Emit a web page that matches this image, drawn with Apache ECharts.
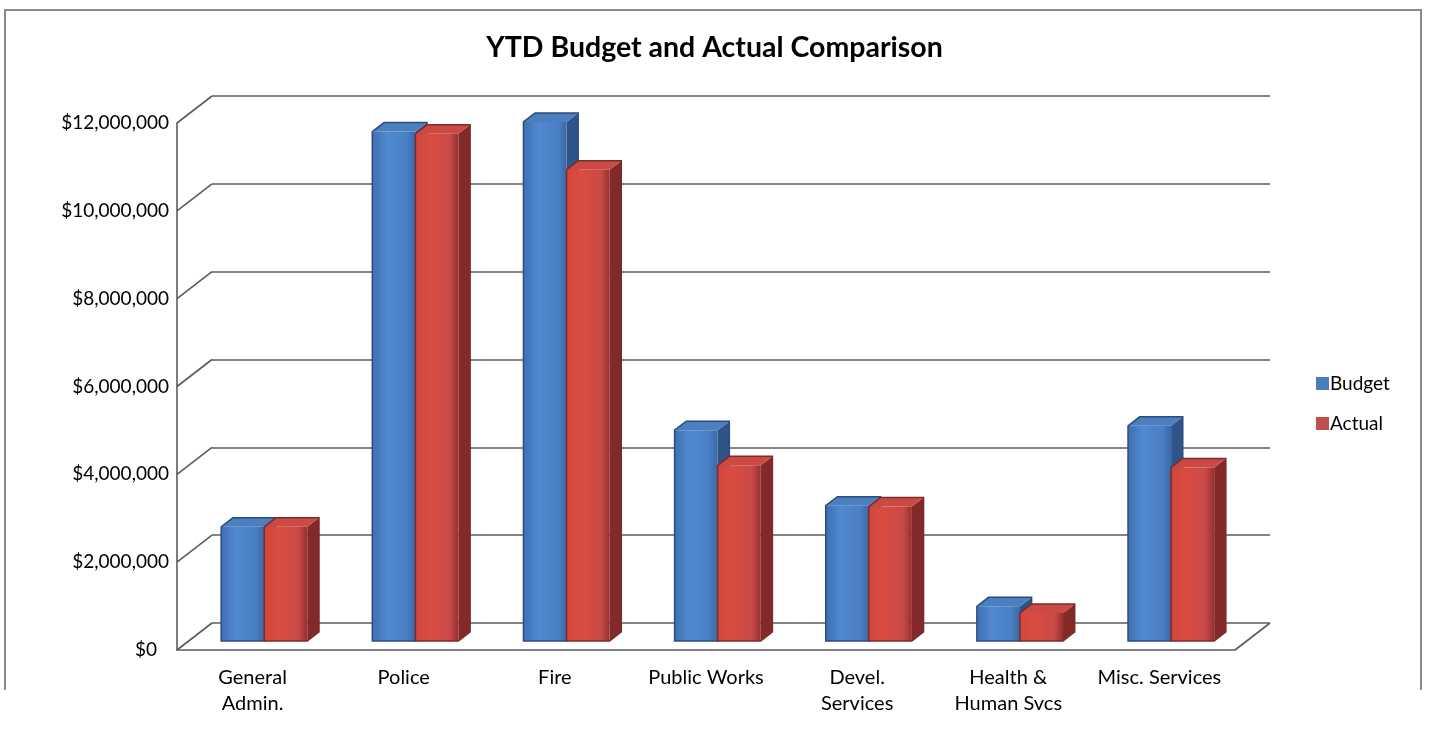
<!DOCTYPE html>
<html>
<head>
<meta charset="utf-8">
<script src="https://cdn.jsdelivr.net/npm/echarts@6/dist/echarts.min.js"></script>
<style>
  html, body { margin: 0; padding: 0; background: #ffffff; }
  #chart { width: 1429px; height: 729px; }
</style>
</head>
<body>
<div id="chart"></div>
<script>
// ---- data ----
const categories = ['General\nAdmin.', 'Police', 'Fire', 'Public Works', 'Devel.\nServices', 'Health &\nHuman Svcs', 'Misc. Services'];
const budget = [2600000, 11600000, 11820000, 4800000, 3080000, 790000, 4900000];
const actual = [2600000, 11550000, 10730000, 4000000, 3060000, 640000, 3950000];
const yTicks = [0, 2000000, 4000000, 6000000, 8000000, 10000000, 12000000];

// ---- 3D look: back wall grid and its projection towards the viewer ----
const DEPTH_DX = -35, DEPTH_DY = 27;        // back wall -> front edge of floor
const PLANE_DX = DEPTH_DX * 2 / 3, PLANE_DY = DEPTH_DY * 2 / 3;   // front face of columns
const BOX_DX = -DEPTH_DX / 3, BOX_DY = -DEPTH_DY / 3;             // column depth
const BAR_FRAC = 0.285;                      // width of one column as a fraction of the category band
const FONT = 'Lato, "Open Sans", sans-serif';
const LINE = '#5c5c5c';

const back = { left: 212, right: 159, top: 96, bottom: 106 };
const front = { left: back.left + DEPTH_DX, right: back.right - DEPTH_DX, top: back.top + DEPTH_DY, bottom: back.bottom - DEPTH_DY };

const palette = {
  Budget: {
    legend: '#4a7ebb',
    front: ['#3f70b2', '#5089cf', '#4a80c3', '#3a68a6'],
    top: '#4a7fc0', side: '#2f5588', edge: '#2c4d7a'
  },
  Actual: {
    legend: '#c0504d',
    front: ['#d0473d', '#da4c41', '#c84a48', '#962f2f'],
    top: '#cc4a44', side: '#842929', edge: '#7e2a2a'
  }
};

function columnRenderer(name, side) {
  const c = palette[name];
  return function (params, api) {
    const cat = api.value(0), val = api.value(1);
    const base = api.coord([cat, 0]);
    const top = api.coord([cat, val]);
    const w = api.size([1, 0])[0] * BAR_FRAC;
    const cx = base[0] + PLANE_DX;
    const x0 = side === 0 ? cx - w : cx;
    const x1 = x0 + w;
    const yb = base[1] + PLANE_DY, yt = top[1] + PLANE_DY;
    const grad = new echarts.graphic.LinearGradient(0, 0, 1, 0, [
      { offset: 0, color: c.front[0] },
      { offset: 0.35, color: c.front[1] },
      { offset: 0.8, color: c.front[2] },
      { offset: 1, color: c.front[3] }
    ]);
    const outline = [[x0, yb], [x0, yt], [x0 + BOX_DX, yt + BOX_DY], [x1 + BOX_DX, yt + BOX_DY], [x1 + BOX_DX, yb + BOX_DY], [x1, yb]];
    return {
      type: 'group',
      children: [
        { type: 'polygon', shape: { points: [[x1, yt], [x1 + BOX_DX, yt + BOX_DY], [x1 + BOX_DX, yb + BOX_DY], [x1, yb]] },
          style: { fill: c.side } },
        { type: 'polygon', shape: { points: [[x0, yt], [x1, yt], [x1 + BOX_DX, yt + BOX_DY], [x0 + BOX_DX, yt + BOX_DY]] },
          style: { fill: c.top } },
        { type: 'rect', shape: { x: x0, y: yt, width: w, height: yb - yt },
          style: { fill: grad } },
        { type: 'polygon', shape: { points: outline },
          style: { fill: 'none', stroke: c.edge, lineWidth: 1.5 } }
      ]
    };
  };
}

// diagonal lines of the left side wall, one for each value tick, plus the floor's right edge
function wallRenderer(params, api) {
  const cs = params.coordSys;
  const y = api.coord([0, api.value(0)])[1];
  const children = [
    { type: 'line', shape: { x1: cs.x, y1: y, x2: cs.x + DEPTH_DX, y2: y + DEPTH_DY },
      style: { stroke: LINE, lineWidth: 1.6 } }
  ];
  if (api.value(0) === 0) {
    const xr = cs.x + cs.width;
    children.push({ type: 'line', shape: { x1: xr, y1: y, x2: xr + DEPTH_DX, y2: y + DEPTH_DY },
      style: { stroke: LINE, lineWidth: 1.6 } });
  }
  return { type: 'group', children };
}

const fmtMoney = v => '$' + Math.round(v).toString().replace(/\B(?=(\d{3})+(?!\d))/g, ',');

const chart = echarts.init(document.getElementById('chart'), null, { renderer: 'canvas' });
chart.setOption({
  backgroundColor: '#ffffff',
  animation: false,
  title: {
    text: 'YTD Budget and Actual Comparison',
    left: 'center', top: 28,
    textStyle: { fontFamily: FONT, fontWeight: 'bold', fontSize: 28.5, color: '#000000' }
  },
  legend: {
    orient: 'vertical', left: 1311, top: 369,
    itemWidth: 13, itemHeight: 13, itemGap: 21,
    icon: 'rect',
    textStyle: { fontFamily: FONT, fontSize: 19, color: '#000000', padding: [0, 0, 0, -4] },
    data: [
      { name: 'Budget', itemStyle: { color: palette.Budget.legend } },
      { name: 'Actual', itemStyle: { color: palette.Actual.legend } }
    ]
  },
  grid: [
    { left: back.left, right: back.right, top: back.top, bottom: back.bottom },
    { left: front.left, right: front.right, top: front.top, bottom: front.bottom }
  ],
  xAxis: [
    { gridIndex: 0, type: 'category', data: categories,
      axisLine: { show: false }, axisTick: { show: false }, axisLabel: { show: false } },
    { gridIndex: 1, type: 'category', data: categories,
      axisLine: { show: true, lineStyle: { color: LINE, width: 1.6 } },
      axisTick: { show: false },
      axisLabel: { interval: 0, margin: 15, fontFamily: FONT, fontSize: 20, lineHeight: 26, color: '#000000' } }
  ],
  yAxis: [
    { gridIndex: 0, type: 'value', min: 0, max: 12000000, interval: 2000000,
      axisLine: { show: false }, axisTick: { show: false }, axisLabel: { show: false },
      splitLine: { show: true, lineStyle: { color: LINE, width: 1.6 } } },
    { gridIndex: 1, type: 'value', min: 0, max: 12000000, interval: 2000000,
      axisLine: { show: true, lineStyle: { color: LINE, width: 1.6 } },
      axisTick: { show: false },
      splitLine: { show: false },
      axisLabel: {
        margin: 8, fontFamily: FONT, fontSize: 19, color: '#000000',
        formatter: v => v === 0 ? '{z|$0}' : fmtMoney(v),
        rich: { z: { fontFamily: FONT, fontSize: 19, color: '#000000', padding: [0, 12, 0, 0] } }
      } }
  ],
  series: [
    { type: 'custom', name: 'wall', xAxisIndex: 0, yAxisIndex: 0, z: 1, silent: true,
      renderItem: wallRenderer, encode: { y: 0 }, data: yTicks.map(v => [v]) },
    { type: 'custom', name: 'Budget', xAxisIndex: 0, yAxisIndex: 0, z: 3,
      itemStyle: { color: palette.Budget.legend },
      renderItem: columnRenderer('Budget', 0), encode: { x: 0, y: 1 },
      data: budget.map((v, i) => [i, v]) },
    { type: 'custom', name: 'Actual', xAxisIndex: 0, yAxisIndex: 0, z: 4,
      itemStyle: { color: palette.Actual.legend },
      renderItem: columnRenderer('Actual', 1), encode: { x: 0, y: 1 },
      data: actual.map((v, i) => [i, v]) }
  ],
  graphic: [
    { type: 'polyline', silent: true, z: 0,
      shape: { points: [[5, 690], [5, 10], [1421, 10], [1421, 690]] },
      style: { fill: 'none', stroke: '#8a8a8a', lineWidth: 2 } }
  ]
});
</script>
</body>
</html>
